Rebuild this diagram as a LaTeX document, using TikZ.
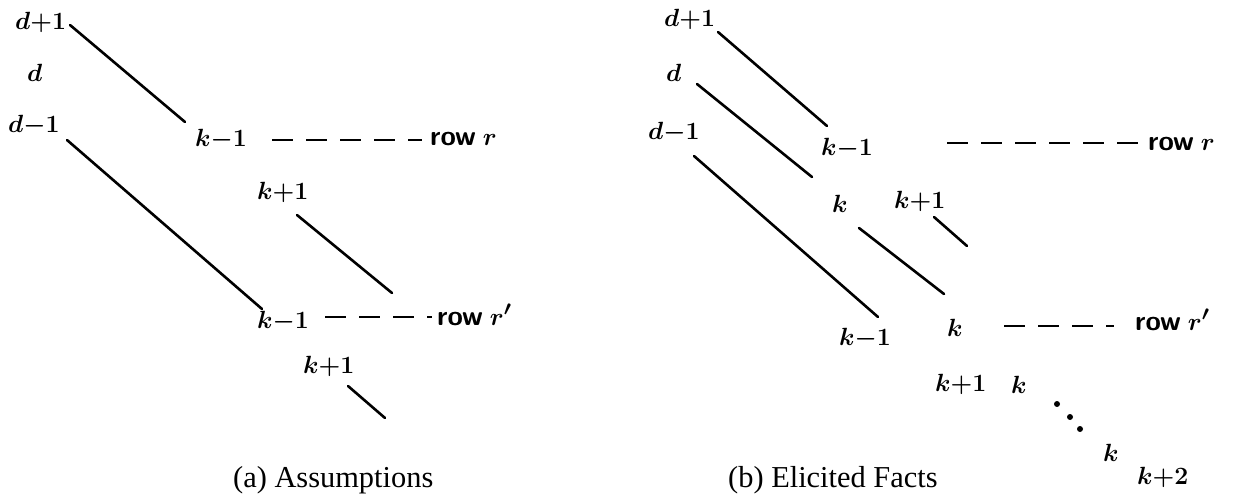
\documentclass[tikz,border=0pt]{standalone}
\usepackage{fontspec}
\setmainfont{Liberation Serif}
\tikzset{
 lbl/.style={inner sep=0pt, anchor=base west, font=\fontsize{28}{30}\selectfont\boldmath\bfseries},
 capt/.style={inner sep=0pt, anchor=base west, font=\fontsize{30.4}{34}\selectfont},
 stroke/.style={line width=2.6pt, line cap=round},
 dsh/.style={line width=2.6pt, dash pattern=on 21pt off 13pt},
 dotmark/.style={circle, fill, inner sep=0pt, minimum size=6pt}
}
\begin{document}
\begin{tikzpicture}[x=1pt,y=-1pt]
\useasboundingbox (0,0) rectangle (1239,494);
% ---------- panel (a)
\node[lbl] (ad1) at (15,30) {$d{+}1$};
\node[lbl] (ad) at (27,82) {$d$};
\node[lbl] (adm) at (8,133) {$d{-}1$};
\node[lbl] (akmA) at (195,147) {$k{-}1$};
\node[lbl] (arowA) at (430,146) {\textsf{row} $r$};
\node[lbl] (akpA) at (257,200) {$k{+}1$};
\node[lbl] (akmB) at (257,328) {$k{-}1$};
\node[lbl] (arowB) at (437,325) {\textsf{row} $r'$};
\node[lbl] (akpB) at (303,373) {$k{+}1$};
\node[capt] (acap) at (233,487) {(a) Assumptions};
\coordinate (a1s) at (70,25);  \coordinate (a1e) at (185,122);
\coordinate (a2s) at (67,140); \coordinate (a2e) at (262,309);
\coordinate (a3s) at (297,215); \coordinate (a3e) at (392,293);
\coordinate (a4s) at (348,386); \coordinate (a4e) at (385,418);
\draw[stroke] (a1s) -- (a1e);
\draw[stroke] (a2s) -- (a2e);
\draw[stroke] (a3s) -- (a3e);
\draw[stroke] (a4s) -- (a4e);
\coordinate (ad1s) at (272,140); \coordinate (ad1e) at (422,140);
\coordinate (ad2s) at (325,317); \coordinate (ad2e) at (432,317);
\draw[dsh] (ad1s) -- (ad1e);
\draw[dsh] (ad2s) -- (ad2e);
% ---------- panel (b)
\node[lbl] (bd1) at (664,27) {$d{+}1$};
\node[lbl] (bd) at (666,82) {$d$};
\node[lbl] (bdm) at (648,140) {$d{-}1$};
\node[lbl] (bkmA) at (821,156) {$k{-}1$};
\node[lbl] (browA) at (1148,151) {\textsf{row} $r$};
\node[lbl] (bkA) at (832,213) {$k$};
\node[lbl] (bkpA) at (894,209) {$k{+}1$};
\node[lbl] (bkmB) at (839,345) {$k{-}1$};
\node[lbl] (bkB) at (947,336) {$k$};
\node[lbl] (browB) at (1135,330) {\textsf{row} $r'$};
\node[lbl] (bkpB) at (935,391) {$k{+}1$};
\node[lbl] (bkC) at (1011,393) {$k$};
\node[lbl] (bkD) at (1103,461) {$k$};
\node[lbl] (bkpp) at (1137,484) {$k{+}2$};
\node[capt] (bcap) at (728,487) {(b) Elicited Facts};
\coordinate (b1s) at (718,32);  \coordinate (b1e) at (827,126);
\coordinate (b2s) at (697,84);  \coordinate (b2e) at (812,177);
\coordinate (b3s) at (694,156); \coordinate (b3e) at (878,317);
\coordinate (b4s) at (859,228); \coordinate (b4e) at (944,294);
\coordinate (b5s) at (934,217); \coordinate (b5e) at (967,246);
\draw[stroke] (b1s) -- (b1e);
\draw[stroke] (b2s) -- (b2e);
\draw[stroke] (b3s) -- (b3e);
\draw[stroke] (b4s) -- (b4e);
\draw[stroke] (b5s) -- (b5e);
\coordinate (bd1s) at (947,143); \coordinate (bd1e) at (1144,143);
\coordinate (bd2s) at (1004,326); \coordinate (bd2e) at (1114,326);
\draw[dsh] (bd1s) -- (bd1e);
\draw[dsh] (bd2s) -- (bd2e);
\node[dotmark] (dt1) at (1057,404) {};
\node[dotmark] (dt2) at (1070,417) {};
\node[dotmark] (dt3) at (1080,429) {};
\end{tikzpicture}
\end{document}
